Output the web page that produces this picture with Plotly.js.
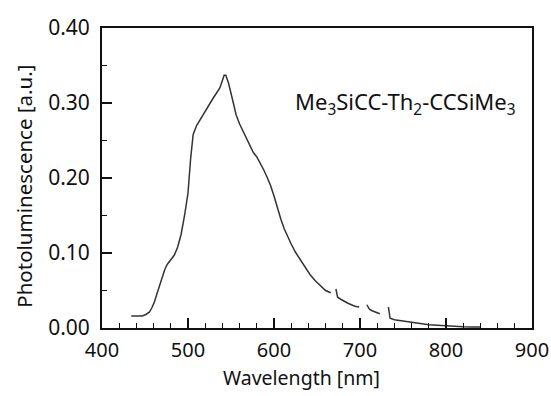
<!DOCTYPE html>
<html>
<head>
<meta charset="utf-8">
<script src="https://cdn.plot.ly/plotly-3.0.1.min.js"></script>
<style>html,body{margin:0;padding:0;background:#fff;}#chart{width:551px;height:396px;}</style>
</head>
<body>
<div id="chart"></div>
<script>
// Wavelength (nm) and photoluminescence (a.u.); null = gap in trace
const wavelength = [434, 440, 447, 451, 455, 458, 461, 464, 467, 470, 473, 476, 480, 484, 488, 492, 496, 500, 503, 506, 510, 515, 521, 525, 529, 533, 537, 540, 542, 544, 547, 550, 553, 556, 560, 564, 568, 572, 576, 580, 584, 588, 592, 596, 600, 604, 608, 612, 616, 620, 625, 630, 636, 642, 648, 654, 660, 666,
  668, 672, 674, 678, 682, 686, 690, 694, 699,
  702, 708, 711, 714, 718, 723,
  728, 733, 735, 740, 745, 750, 760, 770, 780, 790, 800, 810, 820, 830, 840];
const photolum = [0.016, 0.016, 0.016, 0.018, 0.021, 0.027, 0.035, 0.046, 0.057, 0.068, 0.078, 0.085, 0.091, 0.097, 0.108, 0.125, 0.150, 0.180, 0.225, 0.258, 0.270, 0.280, 0.292, 0.299, 0.306, 0.313, 0.320, 0.330, 0.337, 0.337, 0.327, 0.313, 0.298, 0.284, 0.272, 0.262, 0.252, 0.242, 0.234, 0.228, 0.220, 0.211, 0.201, 0.190, 0.176, 0.160, 0.145, 0.132, 0.121, 0.112, 0.101, 0.092, 0.081, 0.071, 0.063, 0.056, 0.050, 0.047,
  null, 0.052, 0.041, 0.038, 0.035, 0.033, 0.031, 0.029, 0.028,
  null, 0.031, 0.025, 0.023, 0.021, 0.019,
  null, 0.028, 0.013, 0.011, 0.010, 0.009, 0.007, 0.006, 0.0045, 0.0036, 0.003, 0.002, 0.0017, 0.0014, 0.0012];
const xTicks = [400, 500, 600, 700, 800, 900];
const yTicks = [0, 0.1, 0.2, 0.3, 0.4];
const yTickText = ['0.00', '0.10', '0.20', '0.30', '0.40'];
const compoundLabel = 'Me<sub>3</sub>SiCC-Th<sub>2</sub>-CCSiMe<sub>3</sub>';
const xTitle = 'Wavelength [nm]';
const yTitle = 'Photoluminescence [a.u.]';

const font = 'Noto Sans, DejaVu Sans, sans-serif';
const trace = {
  x: wavelength, y: photolum, type: 'scatter', mode: 'lines',
  line: {color: '#333', width: 1.5},
  connectgaps: false, hoverinfo: 'none'
};
const layout = {
  width: 551, height: 396,
  margin: {l: 102, r: 19, t: 28, b: 68},
  paper_bgcolor: '#fff', plot_bgcolor: '#fff',
  showlegend: false,
  font: {family: font, color: '#111', size: 20},
  xaxis: {
    range: [400, 900], tickvals: xTicks, ticks: 'inside', ticklen: 10, tickwidth: 1.3, tickcolor: '#111',
    minor: {dtick: 20, tick0: 400, ticks: 'inside', ticklen: 5, tickwidth: 1.1, tickcolor: '#111', showgrid: false},
    showline: true, mirror: true, linecolor: '#111', linewidth: 2,
    showgrid: false, zeroline: false, automargin: false,
    tickfont: {size: 20, family: font}, ticklabelstandoff: 3
  },
  yaxis: {
    range: [0, 0.40], tickvals: yTicks, ticktext: yTickText, ticks: 'inside', ticklen: 10, tickwidth: 1.3, tickcolor: '#111',
    minor: {dtick: 0.05, tick0: 0, ticks: 'inside', ticklen: 5, tickwidth: 1.1, tickcolor: '#111', showgrid: false},
    showline: true, mirror: true, linecolor: '#111', linewidth: 2,
    showgrid: false, zeroline: false, automargin: false,
    tickfont: {size: 21, family: font}, ticklabelstandoff: 6
  },
  annotations: [
    {text: compoundLabel, xref: 'x', yref: 'y', x: 753, y: 0.300, showarrow: false,
     xanchor: 'center', yanchor: 'middle', font: {size: 22, family: font, color: '#111'}},
    {text: xTitle, xref: 'paper', yref: 'paper', x: 0.464, y: -0.164, showarrow: false,
     xanchor: 'center', yanchor: 'middle', font: {size: 19.5, family: font, color: '#111'}},
    {text: yTitle, xref: 'paper', yref: 'paper', x: -0.18, y: 0.473, showarrow: false, textangle: -90,
     xanchor: 'center', yanchor: 'middle', font: {size: 20.5, family: font, color: '#111'}}
  ]
};
Plotly.newPlot('chart', [trace], layout, {staticPlot: true, displayModeBar: false});
</script>
</body>
</html>
